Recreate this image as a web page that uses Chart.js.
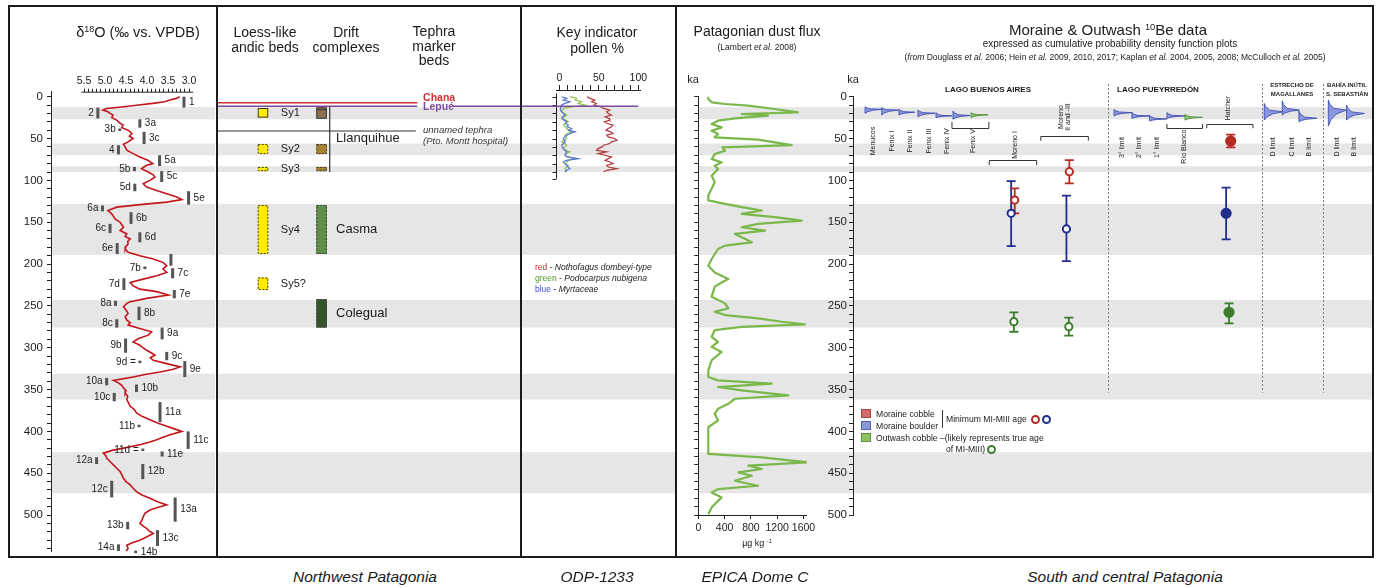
<!DOCTYPE html>
<html>
<head>
<meta charset="utf-8">
<script src="https://cdn.jsdelivr.net/npm/chart.js"></script>
<style>
  body { margin: 0; width: 1384px; height: 588px; position: relative; overflow: hidden; background: #fff;
         font-family: "Liberation Sans", Arial, sans-serif; color: #1a1a1a; }
  canvas { position: absolute; }
  .t { position: absolute; white-space: nowrap; transform: translate(-50%, -50%); text-align: center; line-height: 1.05; }
  .l { position: absolute; white-space: nowrap; transform: translateY(-50%); }
  .bar { position: absolute; background: #1a1a1a; z-index: 5; }
  sup { font-size: 0.62em; vertical-align: 0.55em; line-height: 0; }
  .dot { display: inline-block; width: 5px; height: 5px; border: 2px solid; border-radius: 50%; vertical-align: -2px; margin-left: 2px; }
  .sw { position: absolute; width: 10px; height: 9px; box-sizing: border-box; border: 1px solid; }
</style>
</head>
<body>
<canvas id="d18o" width="204" height="546" style="left:11px;top:10px"></canvas>
<canvas id="loess" width="302" height="546" style="left:218px;top:10px"></canvas>
<canvas id="pollen" width="153" height="546" style="left:522px;top:10px"></canvas>
<canvas id="dust" width="151" height="546" style="left:677px;top:10px"></canvas>
<canvas id="moraine" width="544" height="546" style="left:828px;top:10px"></canvas>

<!-- frame -->
<div class="bar" style="left:8px;top:5px;width:1366px;height:2px"></div>
<div class="bar" style="left:8px;top:556px;width:1366px;height:2px"></div>
<div class="bar" style="left:8px;top:5px;width:2px;height:553px"></div>
<div class="bar" style="left:1372px;top:5px;width:2px;height:553px"></div>
<div class="bar" style="left:216px;top:5px;width:2px;height:553px"></div>
<div class="bar" style="left:520px;top:5px;width:2px;height:553px"></div>
<div class="bar" style="left:675px;top:5px;width:2px;height:553px"></div>

<!-- panel titles -->
<div class="t" style="left:138px;top:33px;font-size:14.5px">δ<sup>18</sup>O (‰ vs. VPDB)</div>
<div class="t" style="left:265px;top:39px;font-size:14px;line-height:14.5px">Loess-like<br>andic beds</div>
<div class="t" style="left:346px;top:39px;font-size:14px;line-height:14.5px">Drift<br>complexes</div>
<div class="t" style="left:434px;top:46px;font-size:14px;line-height:14.7px">Tephra<br>marker<br>beds</div>
<div class="t" style="left:597px;top:40px;font-size:14px;line-height:16px">Key indicator<br>pollen %</div>
<div class="t" style="left:757px;top:31px;font-size:14px">Patagonian dust flux</div>
<div class="t" style="left:757px;top:47px;font-size:8.5px">(Lambert <i>et al.</i> 2008)</div>
<div class="t" style="left:693px;top:80px;font-size:11px">ka</div>
<div class="t" style="left:757px;top:544px;font-size:9px">µg kg <sup>-1</sup></div>
<div class="t" style="left:1108px;top:30px;font-size:15px">Moraine &amp; Outwash <sup>10</sup>Be data</div>
<div class="t" style="left:1110px;top:44px;font-size:10px">expressed as cumulative probability density function plots</div>
<div class="t" style="left:1115px;top:57px;font-size:8.5px">(<i>from</i> Douglass <i>et al.</i> 2006; Hein <i>et al.</i> 2009, 2010, 2017; Kaplan <i>et al.</i> 2004, 2005, 2008; McCulloch <i>et al.</i> 2005)</div>
<div class="t" style="left:853px;top:80px;font-size:11px">ka</div>
<div class="t" style="left:988px;top:90px;font-size:8px;font-weight:bold">LAGO BUENOS AIRES</div>
<div class="t" style="left:1158px;top:90px;font-size:8px;font-weight:bold">LAGO PUEYRREDÓN</div>
<div class="t" style="left:1292px;top:90px;font-size:6px;font-weight:bold;line-height:9px">ESTRECHO DE<br>MAGALLANES</div>
<div class="t" style="left:1347px;top:90px;font-size:6px;font-weight:bold;line-height:9px">BAHÍA INÚTIL<br>S. SEBASTIÁN</div>

<!-- pollen legend -->
<div class="l" style="left:535px;top:267px;font-size:8.5px"><span style="color:#c0302a">red</span> - <i>Nothofagus dombeyi-type</i></div>
<div class="l" style="left:535px;top:278px;font-size:8.5px"><span style="color:#4f9a2a">green</span> - <i>Podocarpus nubigena</i></div>
<div class="l" style="left:535px;top:289px;font-size:8.5px"><span style="color:#3a50c0">blue</span> - <i>Myrtaceae</i></div>

<!-- moraine legend -->
<div class="sw" style="left:861px;top:409px;background:#d46a6a;border-color:#a04646"></div>
<div class="sw" style="left:861px;top:421px;background:#8c97d8;border-color:#5060b0"></div>
<div class="sw" style="left:861px;top:433px;background:#8cc064;border-color:#5a9040"></div>
<div class="l" style="left:876px;top:413.5px;font-size:8.6px">Moraine cobble</div>
<div class="l" style="left:876px;top:425.5px;font-size:8.6px">Moraine boulder</div>
<div class="l" style="left:876px;top:437.5px;font-size:8.6px">Outwash cobble –(likely represents true age</div>
<div style="position:absolute;left:942px;top:410px;width:1px;height:18px;background:#333"></div>
<div class="l" style="left:946px;top:419px;font-size:8.6px">Minimum MI-MIII age <span class="dot" style="border-color:#b52a22"></span><span class="dot" style="border-color:#1f2d8f"></span></div>
<div class="l" style="left:946px;top:449px;font-size:8.6px">of MI-MIII)<span class="dot" style="border-color:#3b7d2c"></span></div>

<!-- bottom captions -->
<div class="t" style="left:365px;top:577px;font-size:15.5px;font-style:italic">Northwest Patagonia</div>
<div class="t" style="left:597px;top:577px;font-size:15.5px;font-style:italic">ODP-1233</div>
<div class="t" style="left:755px;top:577px;font-size:15.5px;font-style:italic">EPICA Dome C</div>
<div class="t" style="left:1125px;top:577px;font-size:15.5px;font-style:italic">South and central Patagonia</div>

<script>
// ---- data (ages in ka) ----
// glacial stages shaded across every panel
const glacialFrom = [12.5, 56, 83, 128, 243, 331, 425];
const glacialTo   = [27, 70, 90, 189, 276, 362, 474];

// benthic d18O stack
const d18oAge = [0, 2, 4, 6, 8, 10, 12, 14, 16, 18, 20, 22, 25, 28, 31, 34, 37, 40, 44, 47, 50, 54, 57, 60, 64, 68,
  72, 76, 80, 82, 86, 90, 93, 96, 100, 104, 108, 112, 116, 120, 123, 126, 129, 132, 136, 140, 143, 146, 150, 153,
  156, 160, 164, 167, 170, 173, 176, 179, 182, 186, 190, 194, 198, 202, 206, 210, 214, 218, 222, 226, 230, 233,
  237, 241, 245, 247, 251, 255, 259, 263, 267, 270, 273, 277, 281, 285, 289, 293, 297, 300, 303, 306, 309, 312,
  315, 319, 323, 326, 329, 332, 335, 339, 342, 345, 348, 351, 354, 358, 362, 366, 370, 374, 378, 382, 386, 390,
  394, 397, 400, 404, 407, 410, 413, 416, 420, 423, 426, 429, 432, 436, 440, 444, 448, 452, 456, 460, 464, 468,
  472, 476, 480, 484, 488, 491, 494, 498, 502, 506, 510, 513, 516, 519, 522, 526, 530, 533, 536, 540, 543];
const d18oVal = [3.22, 3.30, 3.45, 3.58, 3.86, 4.20, 4.55, 4.96, 5.05, 4.93, 4.88, 4.81, 4.84, 4.72, 4.66, 4.57,
  4.60, 4.45, 4.36, 4.42, 4.33, 4.45, 4.56, 4.52, 4.48, 4.33, 4.17, 3.98, 3.86, 4.01, 4.13, 3.97, 3.86, 3.81, 3.93,
  4.09, 4.01, 3.77, 3.53, 3.29, 3.17, 3.53, 4.17, 4.72, 4.93, 4.84, 4.80, 4.76, 4.64, 4.60, 4.56, 4.64, 4.48, 4.52,
  4.40, 4.46, 4.45, 4.50, 4.52, 4.45, 4.17, 3.85, 3.62, 3.53, 3.62, 3.53, 3.77, 4.09, 4.40, 4.33, 4.17, 3.77, 3.49,
  4.01, 4.40, 4.48, 4.56, 4.50, 4.45, 4.52, 4.48, 4.40, 4.45, 4.17, 3.89, 3.97, 4.20, 4.33, 4.17, 4.10, 4.01, 3.90,
  3.81, 3.92, 3.85, 3.53, 3.21, 3.40, 3.69, 4.05, 4.33, 4.80, 4.68, 4.60, 4.56, 4.50, 4.52, 4.46, 4.48, 4.44, 4.40,
  4.30, 4.25, 4.12, 3.93, 3.75, 3.53, 3.35, 3.17, 3.45, 3.62, 3.77, 3.95, 4.17, 4.56, 4.85, 5.04, 4.98, 4.96, 4.88,
  4.80, 4.72, 4.64, 4.60, 4.56, 4.50, 4.40, 4.33, 4.25, 4.12, 3.93, 3.75, 3.53, 3.75, 3.93, 4.05, 4.09, 4.12, 4.17,
  4.10, 4.01, 3.95, 3.85, 4.00, 4.17, 4.35, 4.48, 4.45, 4.50];

// marine isotope (sub)stage markers: age span and d18O position
const misName = ['1', '2', '3a', '3b', '3c', '4', '5a', '5b', '5c', '5d', '5e', '6a', '6b', '6c', '6d', '6e', '',
  '7b', '7c', '7d', '7e', '8a', '8b', '8c', '9a', '9b', '9c', '9d =', '9e', '10a', '10b', '10c', '11a', '11b', '11c',
  '11d =', '11e', '12a', '12b', '12c', '13a', '13b', '13c', '14a', '14b'];
const misTop  = [0, 13, 27, 38, 42, 58, 70, 84, 89, 104, 113, 130, 138, 152, 162, 175, 188, 203, 205, 217, 231,
  244, 251, 266, 276, 289, 305, 315.5, 316, 336, 344, 354, 365, 392, 400, 420.5, 424, 431, 439, 459, 479, 508, 518,
  535, 542.5];
const misBase = [13, 26, 37, 40.5, 56.5, 69, 83, 89, 102, 113, 129, 137, 152, 163, 174, 188, 202, 205.5, 217, 231,
  241, 250, 267, 276, 290, 306, 315, 317.5, 335, 345, 353, 364, 389, 395, 421, 422.5, 430, 439, 457, 479, 508, 517,
  537, 543, 545];
const misVal  = [3.12, 5.17, 4.17, 4.65, 4.07, 4.68, 3.70, 4.30, 3.65, 4.29, 3.01, 5.06, 4.38, 4.88, 4.17, 4.71,
  3.43, 4.05, 3.39, 4.55, 3.35, 4.75, 4.19, 4.72, 3.64, 4.51, 3.53, 4.17, 3.10, 4.96, 4.25, 4.78, 3.69, 4.19, 3.02,
  4.10, 3.64, 5.20, 4.10, 4.84, 3.33, 4.46, 3.75, 4.68, 4.27];
const misSide = ['r', 'l', 'r', 'l', 'r', 'l', 'r', 'l', 'r', 'l', 'r', 'l', 'r', 'l', 'r', 'l', 'r', 'l', 'r', 'l',
  'r', 'l', 'r', 'l', 'r', 'l', 'r', 'l', 'r', 'l', 'r', 'l', 'r', 'l', 'r', 'l', 'r', 'l', 'r', 'l', 'r', 'l', 'r',
  'l', 'r'];

// loess beds and drift complexes
const loessName = ['Sy1', 'Sy2', 'Sy3', 'Sy4', 'Sy5?'];
const loessTop  = [13.5, 56.5, 84, 129.5, 216];
const loessBase = [25, 68.5, 89, 188, 231];
const loessSure = [true, false, false, false, false];
const driftName = ['', '', '', 'Casma', 'Colegual'];
const driftTop  = [12.7, 56.5, 84, 129.5, 242];
const driftBase = [26.3, 68.5, 89, 188, 276];
const driftSure = [true, false, false, false, false];
const llanquihue = [12, 90];
const tephraName = ['Chana', 'Lepué', 'unnamed tephra'];
const tephraAge  = [7.2, 11.5, 41];

// ODP-1233 pollen (%)
const pollenAge = [0, 2, 4, 6, 8, 10, 12, 14, 16, 18, 20, 22, 24, 26, 28, 30, 32, 34, 36, 38, 40, 42, 44, 46, 48,
  50, 52, 54, 56, 58, 60, 62, 64, 66, 68, 70, 72, 74, 76, 78, 80, 82, 84, 86, 88, 90];
const nothofagus = [35, 39, 45, 41, 47, 44, 52, 56, 64, 60, 62, 66, 58, 63, 64, 57, 61, 68, 66, 62, 59, 65, 68, 60,
  62, 70, 73, 66, 64, 56, 54, 49, 47, 60, 49, 58, 66, 62, 58, 64, 68, 60, 62, 73, 60, 56];
const podocarpus = [13.5, 22, 20, 28, 24, 33, 18, 5, 4, 3, 7, 9.4, 6, 5, 8, 11.4, 7, 5, 8, 9.4, 12, 15.6, 10, 7.2,
  8, 9.4, 6, 3, 6, 9.4, 7, 5, 8, 13.5, 9, 7.2, 11, 20, 12, 9.4, 8, 11.4, 9, 7.2, 8, 9.4];
const myrtaceae = [3, 9.4, 5, 13.5, 7.2, 3, 2, 1, 2, 3, 5, 7.2, 4, 3, 6, 9.4, 8, 11.4, 10, 15.6, 12, 20, 14, 9.4, 7,
  5, 6, 7.2, 5, 3, 4, 5, 7, 9.4, 8, 7.2, 10, 24, 9, 5, 7, 9.4, 11, 13.5, 9, 7.2];

// EPICA Dome C dust flux (µg/kg)
const dustAge = [0, 2.7, 6.7, 8.7, 10.7, 14.7, 18.7, 20.7, 22.7, 26, 28.7, 32.7, 36.7, 40.7, 44.6, 48.6, 51.4, 54.6,
  57.8, 60.6, 64.6, 68.6, 74.5, 78.5, 82.5, 86.5, 94.5, 102, 110, 118, 124, 128, 132, 136, 140, 144, 148, 152, 156,
  160, 164, 168, 174, 178, 182, 188, 194, 202, 210, 218, 222, 227, 239, 247, 253, 257, 261, 265, 269, 272, 275, 279,
  287, 293, 299, 305, 315, 327, 335, 339, 343, 347, 351, 357, 361, 367, 373, 379, 387, 395, 407, 419, 427, 431, 435,
  437, 441, 445, 449, 453, 459, 465, 469, 473, 479, 483, 491, 499];
const dustFlux = [152, 152, 203, 406, 756, 1166, 1516, 660, 1060, 558, 300, 203, 355, 203, 300, 250, 908, 1166, 1420,
  365, 406, 250, 203, 355, 250, 300, 203, 250, 203, 152, 152, 406, 660, 965, 660, 1166, 1572, 908, 660, 1015, 558,
  660, 813, 406, 300, 250, 203, 152, 250, 456, 355, 250, 203, 406, 456, 250, 406, 908, 1268, 1620, 660, 250, 203, 300,
  203, 355, 203, 152, 152, 300, 1115, 300, 660, 1370, 558, 456, 300, 250, 300, 152, 152, 152, 152, 965, 1420, 1670,
  760, 965, 610, 813, 558, 908, 300, 203, 355, 300, 203, 152];

// 10Be probability density peaks (ka)
const pdfPeak = [15, 16, 18.5, 19.7, 22.9, 22.5, 21.7, 19, 23, 26.6, 23, 24.6, 18, 16, 25.8, 16, 20];
const pdfFrom = [12, 13, 15, 16, 19, 17, 19, 15, 19, 22, 19, 21, 8, 5, 17, 4, 10];
const pdfTo   = [20, 22, 22, 24, 25, 27, 25, 23, 26, 29, 26, 28, 28, 22, 30, 35, 28];
const pdfKind = ['b', 'b', 'b', 'b', 'b', 'b', 'g', 'b', 'b', 'b', 'b', 'g', 'b', 'b', 'b', 'b', 'b'];

// 10Be ages with uncertainty (ka)
const ageKind = ['boulder', 'cobble', 'outwash', 'cobble', 'boulder', 'outwash', 'cobble', 'boulder', 'outwash'];
const ageKa   = [139.4, 123.5, 268.9, 89.6, 158, 274.9, 53, 139.4, 257.7];
const ageLo   = [100.8, 109.5, 257.7, 75.7, 118.3, 264, 45.4, 108.7, 247];
const ageHi   = [178.5, 139.4, 280.9, 103.5, 196.4, 285.6, 60.5, 170.5, 270.9];
const ageMin  = [true, true, true, true, true, true, false, false, false];

const siteName = ['Menucos', 'Fenix I', 'Fenix II', 'Fenix III', 'Fenix IV', 'Fenix V', 'Moreno I',
  'Moreno|II and -III', '3° limit', '2° limit', '1° limit', 'Río Blanco', 'Hatcher', 'D limit', 'C limit',
  'B limit', 'D limit', 'B limit'];

// ---- layout ----
const KA0 = 96.7, KPX = 0.8367, TOP = 10, H = 546;
const kaPage = ka => KA0 + ka * KPX;
const FONT = '"Liberation Sans", Arial, sans-serif';

// moraine panel column positions (site units)
const siteX = [1.19, 2.30, 3.35, 4.45, 5.51, 7.04, 9.54, 12.45, 15.81, 16.85, 17.85, 19.45, 22.07, 24.71, 25.81,
  26.82, 28.49, 29.48];
const siteLabelKa = [53, 53, 53, 53, 53, 53, 57.7, 24.3, 60.7, 60.7, 60.7, 59.8, 13.5, 60, 60, 60, 60, 60];
const pdfBase = [0.71, 1.69, 2.70, 3.82, 4.88, 5.88, 6.94, 15.35, 16.40, 17.43, 18.46, 19.52, 24.18, 25.24, 26.22,
  27.95, 29.02];
const pdfWide = [0.98, 0.96, 0.94, 1.0, 0.94, 1.0, 1.0, 1.06, 1.03, 1.03, 1.06, 1.03, 1.12, 1.0, 1.06, 1.05, 1.05];
const ageX = [9.30, 9.51, 9.46, 12.72, 12.55, 12.69, 22.21, 21.94, 22.11];
const dividerX = [15.0, 24.04, 27.61];
const brFrom = [5.82, 8.01, 11.04, 18.46, 20.8];
const brTo   = [7.99, 10.8, 13.84, 20.55, 23.52];
const brKa   = [37.5, 75.7, 47, 37.8, 33.2];
const brTick = [-7.3, 5.9, 5.6, -5.1, 4.5];

Chart.defaults.font.family = FONT;
Chart.defaults.font.size = 11;
Chart.defaults.color = '#222';

function opts(pad, scales) {
  return {
    responsive: false, animation: false, devicePixelRatio: 1, events: [],
    layout: { autoPadding: false, padding: pad },
    plugins: { legend: { display: false }, tooltip: { enabled: false } },
    scales: scales
  };
}
function fix(prop, v) {
  return s => { s[prop] = v; s.paddingLeft = s.paddingRight = s.paddingTop = s.paddingBottom = 0; };
}
function range(a, b, step) {
  const out = [];
  for (let v = a; v <= b + 1e-9; v += step) out.push({ value: Math.round(v * 1000) / 1000 });
  return out;
}
const bands = fromLeft => ({
  id: 'bands',
  beforeDraw(chart) {
    const { ctx, chartArea, scales: { y } } = chart;
    const x0 = fromLeft ? 0 : chartArea.left;
    ctx.save();
    ctx.fillStyle = '#e6e6e6';
    glacialFrom.forEach((a, i) => {
      const y0 = y.getPixelForValue(a), y1 = y.getPixelForValue(glacialTo[i]);
      ctx.fillRect(x0, y0, chart.width - x0, y1 - y0);
    });
    ctx.restore();
  }
});
const hidden = (min, max, reverse) => ({ type: 'linear', display: false, min, max, reverse: !!reverse });

// ---- d18O panel ----
const D18_AT55 = 84, D18_PXU = 42, d18L = 51, d18R = 204;
const misPlugin = {
  id: 'mis',
  afterDatasetsDraw(chart) {
    const { ctx, chartArea, scales: { x, y } } = chart;
    ctx.save();
    ctx.strokeStyle = '#222';
    ctx.lineWidth = 1;
    ctx.beginPath();
    ctx.moveTo(x.getPixelForValue(5.56), chartArea.top + 0.5);
    ctx.lineTo(x.getPixelForValue(2.9), chartArea.top + 0.5);
    ctx.stroke();
    ctx.font = '10px ' + FONT;
    ctx.textBaseline = 'middle';
    misName.forEach((n, i) => {
      const px = x.getPixelForValue(misVal[i]);
      const y0 = y.getPixelForValue(misTop[i]);
      const h = Math.max(y.getPixelForValue(misBase[i]) - y0, 2.5);
      ctx.fillStyle = '#555';
      ctx.fillRect(px - 1.5, y0, 3, h);
      if (!n) return;
      ctx.fillStyle = '#222';
      if (misSide[i] === 'r') { ctx.textAlign = 'left'; ctx.fillText(n, px + 5, y0 + h / 2); }
      else { ctx.textAlign = 'right'; ctx.fillText(n, px - 4, y0 + h / 2); }
    });
    ctx.restore();
  }
};
new Chart(document.getElementById('d18o'), {
  type: 'scatter',
  data: { datasets: [{
    data: d18oAge.map((a, i) => ({ x: d18oVal[i], y: a })),
    showLine: true, pointRadius: 0, borderColor: '#c2161c', borderWidth: 1.6, tension: 0
  }] },
  options: opts({ left: 0, right: 204 - (d18R - 11), top: 0, bottom: TOP + H - kaPage(544) }, {
    x: {
      type: 'linear', position: 'top', reverse: true,
      min: 5.5 - (d18R - D18_AT55) / D18_PXU, max: 5.5 + (D18_AT55 - d18L) / D18_PXU,
      afterBuildTicks: s => { s.ticks = range(3.0, 5.5, 0.1); },
      afterFit: fix('height', kaPage(-6) - TOP),
      grid: { drawOnChartArea: false, tickLength: 3, color: '#222' },
      border: { display: false },
      ticks: { autoSkip: false, maxRotation: 0, minRotation: 0, padding: 1, font: { size: 10.5 },
        callback: v => Math.abs(v * 2 - Math.round(v * 2)) < 1e-6 ? v.toFixed(1) : '' }
    },
    y: {
      type: 'linear', position: 'left', reverse: true, min: -6, max: 544,
      afterBuildTicks: s => { s.ticks = range(0, 540, 10); },
      afterFit: fix('width', d18L - 11),
      grid: { drawOnChartArea: false, tickLength: 4, color: '#222' },
      border: { color: '#222' },
      ticks: { autoSkip: false, padding: 4, font: { size: 11.5 }, callback: v => v % 50 === 0 ? v : '' }
    }
  }),
  plugins: [bands(false), misPlugin]
});

// ---- loess / drift / tephra panel (x in column units 0..10) ----
const LOESS_COL = 1.49, DRIFT_COL = 3.43, COL_HALF = 0.175, SY_LABEL = 2.08, DRIFT_LABEL = 3.91,
      LLANQ_X = 3.70, TEPHRA_END = 6.6, TEPHRA_LABEL = 6.79, LEPUE_RESUME = 7.75;
const driftFill = ['#8a7150', '#a88431', '#a88431', '#5f8f48', '#35562b'];
function bedBox(ctx, x, y, col, top, base, fill, sure) {
  const x0 = x.getPixelForValue(col - COL_HALF), x1 = x.getPixelForValue(col + COL_HALF);
  const y0 = y.getPixelForValue(top), y1 = y.getPixelForValue(base);
  ctx.fillStyle = fill;
  ctx.fillRect(x0, y0, x1 - x0, y1 - y0);
  ctx.setLineDash(sure ? [] : [2, 1.5]);
  ctx.strokeStyle = '#3a3a3a';
  ctx.lineWidth = 1;
  ctx.strokeRect(x0 + 0.5, y0 + 0.5, x1 - x0 - 1, y1 - y0 - 1);
  ctx.setLineDash([]);
}
function hline(ctx, x0, x1, y, color, w) {
  ctx.strokeStyle = color; ctx.lineWidth = w;
  ctx.beginPath(); ctx.moveTo(x0, y); ctx.lineTo(x1, y); ctx.stroke();
}
const loessPlugin = {
  id: 'loess',
  afterDraw(chart) {
    const { ctx, scales: { x, y } } = chart;
    ctx.save();
    hline(ctx, x.getPixelForValue(0), x.getPixelForValue(TEPHRA_END), y.getPixelForValue(tephraAge[0]), '#d23030', 1.6);
    hline(ctx, x.getPixelForValue(0), x.getPixelForValue(TEPHRA_END), y.getPixelForValue(tephraAge[1]), '#7c4a9c', 1.6);
    hline(ctx, x.getPixelForValue(LEPUE_RESUME), chart.width, y.getPixelForValue(tephraAge[1]), '#7c4a9c', 1.6);
    hline(ctx, x.getPixelForValue(0), x.getPixelForValue(TEPHRA_END - 0.05), y.getPixelForValue(tephraAge[2]), '#333', 1);
    ctx.strokeStyle = '#333'; ctx.lineWidth = 1.2;
    ctx.beginPath();
    ctx.moveTo(x.getPixelForValue(LLANQ_X), y.getPixelForValue(llanquihue[0]));
    ctx.lineTo(x.getPixelForValue(LLANQ_X), y.getPixelForValue(llanquihue[1]));
    ctx.stroke();

    loessName.forEach((n, i) => bedBox(ctx, x, y, LOESS_COL, loessTop[i], loessBase[i], '#ffec00', loessSure[i]));
    driftName.forEach((n, i) => bedBox(ctx, x, y, DRIFT_COL, driftTop[i], driftBase[i], driftFill[i], driftSure[i]));
    hline(ctx, x.getPixelForValue(DRIFT_COL - COL_HALF), x.getPixelForValue(DRIFT_COL + COL_HALF),
      y.getPixelForValue(driftTop[0]) + 2.5, '#3a3a3a', 1);

    ctx.textBaseline = 'middle';
    ctx.textAlign = 'left';
    ctx.fillStyle = '#1a1a1a';
    ctx.font = '11px ' + FONT;
    loessName.forEach((n, i) => ctx.fillText(n, x.getPixelForValue(SY_LABEL), y.getPixelForValue((loessTop[i] + loessBase[i]) / 2)));
    ctx.font = '13px ' + FONT;
    driftName.forEach((n, i) => { if (n) ctx.fillText(n, x.getPixelForValue(DRIFT_LABEL), y.getPixelForValue((driftTop[i] + driftBase[i]) / 2)); });
    ctx.fillText('Llanquihue', x.getPixelForValue(DRIFT_LABEL), y.getPixelForValue(49.4));

    const tx = x.getPixelForValue(TEPHRA_LABEL);
    ctx.font = 'bold 10.5px ' + FONT;
    ctx.fillStyle = '#d23030'; ctx.fillText(tephraName[0], tx, y.getPixelForValue(1.2));
    ctx.fillStyle = '#7c4a9c'; ctx.fillText(tephraName[1], tx, y.getPixelForValue(13));
    ctx.font = 'italic 9.5px ' + FONT;
    ctx.fillStyle = '#333';
    ctx.fillText(tephraName[2], tx, y.getPixelForValue(40.6));
    ctx.fillText('(Pto. Montt hospital)', tx, y.getPixelForValue(53.8));
    ctx.restore();
  }
};
new Chart(document.getElementById('loess'), {
  type: 'scatter',
  data: { datasets: [] },
  options: opts({ left: 0, right: 0, top: kaPage(-8) - TOP, bottom: TOP + H - kaPage(542) }, {
    x: hidden(0, 10), y: hidden(-8, 542, true)
  }),
  plugins: [bands(true), loessPlugin]
});

// ---- pollen panel ----
const POL_AT0 = 559.3, POL_PXU = 0.79, polL = 556, polR = 640;
const pollenPlugin = {
  id: 'pollenAxis',
  afterDatasetsDraw(chart) {
    const { ctx, chartArea, scales: { x, y } } = chart;
    ctx.save();
    ctx.strokeStyle = '#222'; ctx.lineWidth = 1;
    const ax = chartArea.left + 0.5;
    ctx.beginPath();
    ctx.moveTo(ax, y.getPixelForValue(-4)); ctx.lineTo(ax, y.getPixelForValue(98));
    [...range(0, 90, 10).map(t => t.value), 98].forEach(v => {
      const py = Math.round(y.getPixelForValue(v)) + 0.5;
      ctx.moveTo(ax - 4, py); ctx.lineTo(ax, py);
    });
    ctx.stroke();
    hline(ctx, 0, x.getPixelForValue(100), y.getPixelForValue(tephraAge[1]), '#7c4a9c', 1.6);
    ctx.restore();
  }
};
const pollenSeries = (vals, color) => ({
  data: pollenAge.map((a, i) => ({ x: vals[i], y: a })),
  showLine: true, pointRadius: 0, borderColor: color, borderWidth: 1.2, tension: 0
});
new Chart(document.getElementById('pollen'), {
  type: 'scatter',
  data: { datasets: [
    pollenSeries(myrtaceae, '#5573d6'),
    pollenSeries(podocarpus, '#8cc34a'),
    pollenSeries(nothofagus, '#b0393a')
  ] },
  options: opts({ left: polL - 522, right: 522 + 153 - polR, top: 0, bottom: TOP + H - kaPage(542) }, {
    x: {
      type: 'linear', position: 'top',
      min: (polL - POL_AT0) / POL_PXU, max: (polR - POL_AT0) / POL_PXU,
      afterBuildTicks: s => { s.ticks = range(0, 100, 10); },
      afterFit: fix('height', kaPage(-8) - TOP),
      grid: { drawOnChartArea: false, tickLength: 5, color: '#222' },
      border: { color: '#222' },
      ticks: { autoSkip: false, maxRotation: 0, minRotation: 0, padding: 1, font: { size: 10.5 },
        callback: v => v % 50 === 0 ? v : '' }
    },
    y: hidden(-8, 542, true)
  }),
  plugins: [bands(true), pollenPlugin]
});

// ---- EPICA dust panel ----
const DUST_AT0 = 698.3, DUST_PXU = 26.3 / 400, dustR = 806.8;
new Chart(document.getElementById('dust'), {
  type: 'scatter',
  data: { datasets: [{
    data: dustAge.map((a, i) => ({ x: dustFlux[i], y: a })),
    showLine: true, pointRadius: 0, borderColor: '#7ab84c', borderWidth: 2.2, tension: 0, borderJoinStyle: 'round'
  }] },
  options: opts({ left: 0, right: 677 + 151 - dustR, top: kaPage(0) - TOP, bottom: 0 }, {
    x: {
      type: 'linear', position: 'bottom', min: 0, max: (dustR - DUST_AT0) / DUST_PXU,
      afterBuildTicks: s => { s.ticks = range(0, 1600, 400); },
      afterFit: fix('height', TOP + H - kaPage(500)),
      grid: { drawOnChartArea: false, tickLength: 4, color: '#222' },
      border: { color: '#222' },
      ticks: { autoSkip: false, maxRotation: 0, padding: 3, font: { size: 10.5 }, callback: v => String(v) }
    },
    y: {
      type: 'linear', position: 'left', reverse: true, min: 0, max: 500,
      afterBuildTicks: s => { s.ticks = range(0, 500, 10); },
      afterFit: fix('width', DUST_AT0 - 677),
      grid: { drawOnChartArea: false, tickLength: 4, color: '#222' },
      border: { color: '#222' },
      ticks: { display: false }
    }
  }),
  plugins: [bands(false)]
});

// ---- moraine & outwash panel ----
const kindColor = { cobble: '#b52a22', boulder: '#1f2d8f', outwash: '#3b7d2c' };
const pdfStyle = { b: ['rgba(128,140,222,0.9)', '#3242a8'], g: ['rgba(130,190,90,0.9)', '#4a8a30'] };
const moraineDecor = {
  id: 'moraineDecor',
  beforeDatasetsDraw(chart) {
    const { ctx, scales: { x, y } } = chart;
    ctx.save();
    // dashed region dividers
    ctx.strokeStyle = '#777'; ctx.lineWidth = 1; ctx.setLineDash([2, 2]);
    dividerX.forEach(d => {
      const px = Math.round(x.getPixelForValue(d)) + 0.5;
      ctx.beginPath(); ctx.moveTo(px, y.getPixelForValue(-15)); ctx.lineTo(px, y.getPixelForValue(354)); ctx.stroke();
    });
    ctx.setLineDash([]);
    // probability density shapes
    pdfPeak.forEach((p, i) => {
      const b = x.getPixelForValue(pdfBase[i]);
      const w = x.getPixelForValue(pdfBase[i] + pdfWide[i]) - b;
      const f = pdfFrom[i], t = pdfTo[i];
      const pts = [[0, f], [0.08, f + 0.4 * (p - f)], [0.3, f + 0.82 * (p - f)], [1, p],
                   [0.45, p + 0.25 * (t - p)], [0.15, p + 0.6 * (t - p)], [0, t]];
      ctx.beginPath();
      pts.forEach(([d, ka], k) => {
        const px = b + d * w, py = y.getPixelForValue(ka);
        if (k === 0) ctx.moveTo(px, py); else ctx.lineTo(px, py);
      });
      ctx.closePath();
      ctx.fillStyle = pdfStyle[pdfKind[i]][0];
      ctx.fill();
      ctx.strokeStyle = pdfStyle[pdfKind[i]][1];
      ctx.lineWidth = 0.8;
      ctx.stroke();
    });
    // sample brackets
    ctx.strokeStyle = '#333'; ctx.lineWidth = 1;
    brFrom.forEach((f, i) => {
      const x0 = x.getPixelForValue(f), x1 = x.getPixelForValue(brTo[i]);
      const y0 = Math.round(y.getPixelForValue(brKa[i])) + 0.5, y1 = y.getPixelForValue(brKa[i] + brTick[i]);
      ctx.beginPath(); ctx.moveTo(x0, y1); ctx.lineTo(x0, y0); ctx.lineTo(x1, y0); ctx.lineTo(x1, y1); ctx.stroke();
    });
    // site labels (rotated)
    ctx.fillStyle = '#1a1a1a';
    ctx.font = '7px ' + FONT;
    ctx.textAlign = 'center';
    ctx.textBaseline = 'middle';
    siteName.forEach((n, i) => {
      const lines = n.split('|');
      ctx.save();
      ctx.translate(x.getPixelForValue(siteX[i]), y.getPixelForValue(siteLabelKa[i]));
      ctx.rotate(-Math.PI / 2);
      lines.forEach((ln, k) => ctx.fillText(ln, 0, (k - (lines.length - 1) / 2) * 7.5));
      ctx.restore();
    });
    // error bars
    ctx.lineWidth = 1.8;
    ageKa.forEach((a, i) => {
      const px = x.getPixelForValue(ageX[i]);
      const y0 = y.getPixelForValue(ageLo[i]), y1 = y.getPixelForValue(ageHi[i]);
      ctx.strokeStyle = kindColor[ageKind[i]];
      ctx.beginPath();
      ctx.moveTo(px, y0); ctx.lineTo(px, y1);
      ctx.moveTo(px - 4.5, y0); ctx.lineTo(px + 4.5, y0);
      ctx.moveTo(px - 4.5, y1); ctx.lineTo(px + 4.5, y1);
      ctx.stroke();
    });
    ctx.restore();
  }
};
const ageSet = kind => {
  const idx = ageKind.map((k, i) => k === kind ? i : -1).filter(i => i >= 0);
  const c = kindColor[kind];
  return {
    data: idx.map(i => ({ x: ageX[i], y: ageKa[i] })),
    pointRadius: idx.map(i => ageMin[i] ? 3.6 : 4.6),
    pointBorderWidth: 2, borderColor: c, pointBorderColor: c,
    pointBackgroundColor: idx.map(i => ageMin[i] ? '#ffffff' : c)
  };
};
new Chart(document.getElementById('moraine'), {
  type: 'scatter',
  data: { datasets: ['cobble', 'boulder', 'outwash'].map(ageSet) },
  options: opts({ left: 0, right: 2, top: kaPage(0) - TOP, bottom: TOP + H - kaPage(500) }, {
    x: hidden(0, 30.4),
    y: {
      type: 'linear', position: 'left', reverse: true, min: 0, max: 500,
      afterBuildTicks: s => { s.ticks = range(0, 500, 10); },
      afterFit: fix('width', 853 - 828),
      grid: { drawOnChartArea: false, tickLength: 4, color: '#222' },
      border: { color: '#222' },
      ticks: { autoSkip: false, padding: 2, font: { size: 11.5 }, callback: v => v % 50 === 0 ? v : '' }
    }
  }),
  plugins: [bands(true), moraineDecor]
});
</script>
</body>
</html>
